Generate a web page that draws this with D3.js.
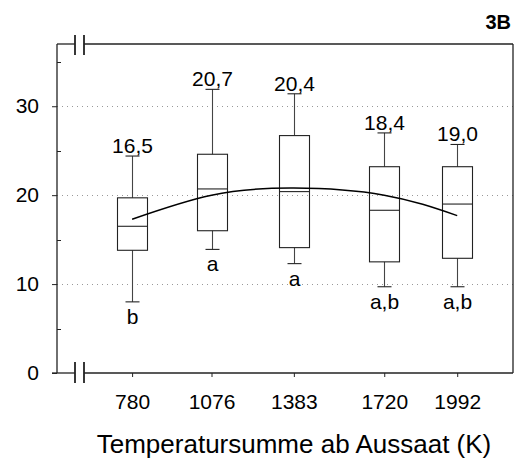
<!DOCTYPE html>
<html><head><meta charset="utf-8">
<script src="https://cdn.jsdelivr.net/npm/d3@7"></script>
<style>body{margin:0;background:#fff}svg{display:block}text{font-family:"Liberation Sans",Arial,sans-serif;fill:#000}</style>
</head><body><svg id="c" width="515" height="468"></svg>
<script>
const categories = [780, 1076, 1383, 1720, 1992];
const whiskerLow = [8.0, 13.9, 12.3, 9.7, 9.7];
const q1 = [13.8, 16.0, 14.1, 12.5, 12.9];
const median = [16.5, 20.7, 20.4, 18.3, 19.0];
const q3 = [19.7, 24.6, 26.7, 23.2, 23.2];
const whiskerHigh = [24.4, 31.9, 31.4, 27.0, 25.7];
const meanLabels = ["16,5", "20,7", "20,4", "18,4", "19,0"];
const groupLetters = ["b", "a", "a", "a,b", "a,b"];
const fitValues = [17.3, 20.0, 20.8, 20.0, 17.7];
const yTicks = [0, 10, 20, 30];
const yMinorTicks = [5, 15, 25, 35];
const gridTicks = [10, 20, 30];
const xTitle = "Temperatursumme ab Aussaat (K)";
const panelLabel = "3B";

const svg = d3.select("#c");
const x = d3.scaleLinear().domain([500, 2200]).range([57, 513]);
const y = d3.scaleLinear().domain([0, 37]).range([373, 44]);
const L = 57, R = 513, T = 44, B = 373;
const frameColor = "#222";

// grid
svg.append("g").selectAll("line").data(gridTicks).join("line")
  .attr("x1", L).attr("x2", R)
  .attr("y1", d => Math.round(y(d)) + 0.5).attr("y2", d => Math.round(y(d)) + 0.5)
  .attr("stroke", "#999").attr("stroke-dasharray", "1,4");

// y axis
const ya = svg.append("g").attr("transform", `translate(${L},0)`)
  .call(d3.axisLeft(y).tickValues(yTicks).tickSize(5).tickPadding(13).tickFormat(d3.format("d")));
ya.select(".domain").remove();
ya.selectAll("line").attr("stroke", frameColor);
ya.selectAll("text").style("font-size", "21px").attr("fill", "#000");
svg.append("g").selectAll("line").data(yMinorTicks).join("line")
  .attr("x1", L).attr("x2", L + 4)
  .attr("y1", d => Math.round(y(d)) + 0.5).attr("y2", d => Math.round(y(d)) + 0.5)
  .attr("stroke", frameColor);

// x axis
const xa = svg.append("g").attr("transform", `translate(0,${B})`)
  .call(d3.axisBottom(x).tickValues(categories).tickSize(4).tickPadding(17).tickFormat(d3.format("d")));
xa.select(".domain").remove();
xa.selectAll("line").attr("stroke", frameColor);
xa.selectAll("text").style("font-size", "21px").attr("fill", "#000");

// frame with breaks
const fr = svg.append("g").attr("stroke", frameColor).attr("stroke-width", 1.3).attr("fill", "none");
fr.append("line").attr("x1", L).attr("x2", L).attr("y1", T).attr("y2", B);
fr.append("line").attr("x1", R).attr("x2", R).attr("y1", T).attr("y2", B);
fr.append("line").attr("x1", L).attr("x2", 75).attr("y1", T).attr("y2", T);
fr.append("line").attr("x1", 84).attr("x2", R).attr("y1", T).attr("y2", T);
fr.append("line").attr("x1", 52).attr("x2", 75).attr("y1", B).attr("y2", B);
fr.append("line").attr("x1", 84).attr("x2", R).attr("y1", B).attr("y2", B);
const br = svg.append("g").attr("stroke", "#222").attr("stroke-width", 1.8);
[75, 84].forEach(bx => {
  br.append("line").attr("x1", bx).attr("x2", bx).attr("y1", T - 9).attr("y2", T + 11);
  br.append("line").attr("x1", bx).attr("x2", bx).attr("y1", B - 11).attr("y2", B + 10);
});

// boxes
const bw = 30, cap = 14;
const g = svg.append("g").attr("stroke", "#222").attr("stroke-width", 1.1).attr("fill", "none");
categories.forEach((c, i) => {
  const cx = Math.round(x(c)) + 0.5;
  g.append("line").attr("x1", cx).attr("x2", cx).attr("y1", y(q3[i])).attr("y2", y(whiskerHigh[i])).attr("stroke", "#444");
  g.append("line").attr("x1", cx).attr("x2", cx).attr("y1", y(q1[i])).attr("y2", y(whiskerLow[i])).attr("stroke", "#444");
  g.append("line").attr("x1", cx - cap / 2).attr("x2", cx + cap / 2).attr("y1", y(whiskerHigh[i])).attr("y2", y(whiskerHigh[i]));
  g.append("line").attr("x1", cx - cap / 2).attr("x2", cx + cap / 2).attr("y1", y(whiskerLow[i])).attr("y2", y(whiskerLow[i]));
  g.append("rect").attr("x", cx - bw / 2).attr("width", bw)
    .attr("y", y(q3[i])).attr("height", y(q1[i]) - y(q3[i]));
  g.append("line").attr("x1", cx - bw / 2).attr("x2", cx + bw / 2).attr("y1", y(median[i])).attr("y2", y(median[i]));
  svg.append("text").attr("x", cx).attr("y", y(whiskerHigh[i]) - 3).attr("text-anchor", "middle")
    .style("font-size", "21px").text(meanLabels[i]);
  svg.append("text").attr("x", cx).attr("y", y(whiskerLow[i]) + 22).attr("text-anchor", "middle")
    .style("font-size", "21px").text(groupLetters[i]);
});

// fitted curve
const line = d3.line().x((d, i) => x(categories[i])).y(d => y(d)).curve(d3.curveNatural);
svg.append("path").datum(fitValues).attr("d", line).attr("fill", "none").attr("stroke", "#000").attr("stroke-width", 1.5);

// titles
svg.append("text").attr("x", 294).attr("y", 453).attr("text-anchor", "middle").style("font-size", "26px").text(xTitle);
svg.append("text").attr("x", 511).attr("y", 29).attr("text-anchor", "end").style("font-size", "20px").style("font-weight", "bold").text(panelLabel);
</script></body></html>
